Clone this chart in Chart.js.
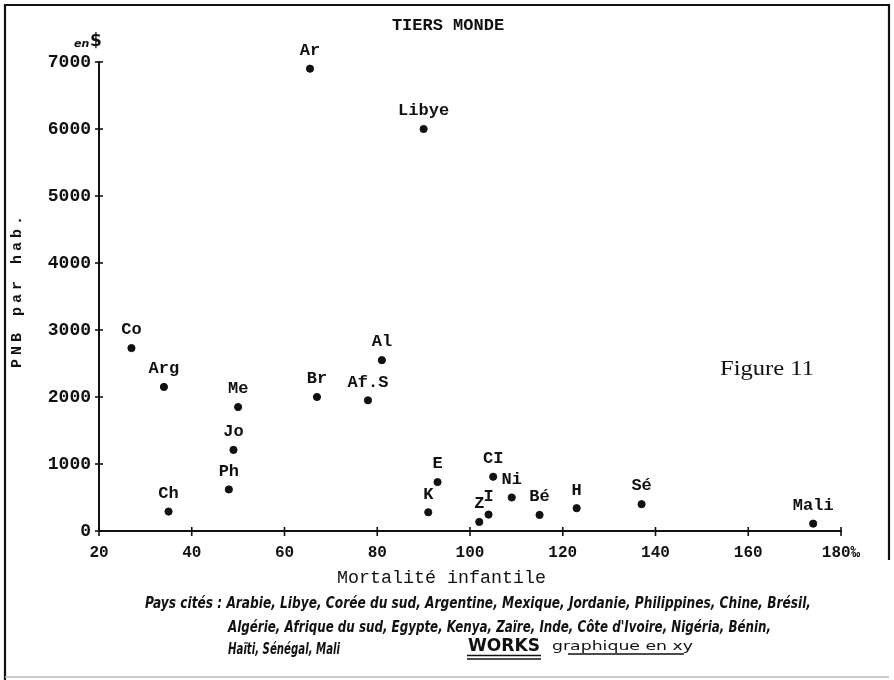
<!DOCTYPE html>
<html>
<head>
<meta charset="utf-8">
<script src="https://cdn.jsdelivr.net/npm/chart.js@4"></script>
<style>
html,body{margin:0;padding:0;background:#fff;}
#wrap{position:relative;width:894px;height:680px;}
</style>
</head>
<body>
<div id="wrap"><canvas id="c" width="894" height="680"></canvas></div>
<script>
// ---- data ----
const countryCodes = ['Ar','Libye','Co','Arg','Ch','Me','Jo','Ph','Br','Af.S','Al','K','E','CI','Ni','Z','I','Bé','H','Sé','Mali'];
const mortalite = [65.5, 90, 27, 34, 35, 50, 49, 48, 67, 78, 81, 91, 93, 105, 109, 102, 104, 115, 123, 137, 174];
const pnb = [6900, 6000, 2730, 2150, 290, 1850, 1210, 620, 2000, 1950, 2550, 280, 730, 810, 500, 135, 245, 240, 340, 400, 110];
const xTicks = [20, 40, 60, 80, 100, 120, 140, 160, 180];
const yTicks = [0, 1000, 2000, 3000, 4000, 5000, 6000, 7000];
const titleText = 'TIERS MONDE';
const xTitle = 'Mortalité infantile';
const yTitle = 'PNB par hab.';
const captionLines = [
  'Pays cités : Arabie, Libye, Corée du sud, Argentine, Mexique, Jordanie, Philippines, Chine, Brésil,',
  'Algérie, Afrique du sud, Egypte, Kenya, Zaïre, Inde, Côte d\'Ivoire, Nigéria, Bénin,',
  'Haïti, Sénégal, Mali'
];

const points = mortalite.map((m, i) => ({x: m, y: pnb[i]}));

function fitText(ctx, text, x, y, width, font) {
  ctx.save();
  ctx.font = font;
  const w = ctx.measureText(text).width;
  const s = width / w;
  ctx.translate(x, y);
  ctx.scale(s, 1);
  ctx.textAlign = 'left';
  ctx.fillText(text, 0, 0);
  ctx.restore();
}

const decorPlugin = {
  id: 'decor',
  afterDraw(chart) {
    const ctx = chart.ctx;
    const xs = chart.scales.x, ys = chart.scales.y;
    ctx.save();
    ctx.strokeStyle = '#111';
    ctx.fillStyle = '#111';
    // crossing tick marks
    ctx.lineWidth = 1.6;
    xTicks.forEach(v => {
      const px = xs.getPixelForValue(v);
      ctx.beginPath();
      ctx.moveTo(px, ys.bottom - 4);
      ctx.lineTo(px, ys.bottom + 5);
      ctx.stroke();
    });
    yTicks.forEach(v => {
      const py = ys.getPixelForValue(v);
      ctx.beginPath();
      ctx.moveTo(xs.left - 4, py);
      ctx.lineTo(xs.left + 4, py);
      ctx.stroke();
    });
    // point labels
    const meta = chart.getDatasetMeta(0);
    ctx.font = 'bold 17px "Liberation Mono"';
    ctx.textAlign = 'center';
    ctx.textBaseline = 'middle';
    meta.data.forEach((el, i) => {
      ctx.fillText(countryCodes[i], el.x, el.y - 18);
    });
    // title
    ctx.font = 'bold 17px "Liberation Mono"';
    ctx.fillText(titleText, 448, 26);
    // x title
    ctx.textBaseline = 'middle';
    fitText(ctx, xTitle, 337, 578, 209, '18px "Liberation Mono"');
    // y title rotated
    ctx.save();
    ctx.translate(17, 292);
    ctx.rotate(-Math.PI / 2);
    ctx.font = 'bold 15px "Liberation Mono"';
    ctx.textAlign = 'center';
    ctx.textBaseline = 'middle';
    try { ctx.letterSpacing = '4px'; } catch (e) {}
    ctx.fillText(yTitle, 2, 0);
    ctx.restore();
    // en $
    ctx.font = 'italic bold 11px "DejaVu Sans"';
    ctx.textAlign = 'left';
    ctx.fillText('en', 74, 44);
    ctx.font = 'bold 17px "DejaVu Sans"';
    ctx.fillText('$', 90, 42);
    // Figure 11
    ctx.textBaseline = 'alphabetic';
    fitText(ctx, 'Figure 11', 720, 375, 94, '21px "Liberation Serif"');
    // captions
    const capFont = 'italic bold 15px "DejaVu Sans Condensed", "DejaVu Sans"';
    fitText(ctx, captionLines[0], 145, 608, 666, capFont);
    fitText(ctx, captionLines[1], 228, 632, 543, capFont);
    fitText(ctx, captionLines[2], 228, 654, 112, capFont);
    // WORKS
    fitText(ctx, 'WORKS', 468, 651, 72, 'bold 17px "DejaVu Sans"');
    ctx.lineWidth = 1.6;
    ctx.beginPath();
    ctx.moveTo(467, 655.5); ctx.lineTo(541, 655.5);
    ctx.moveTo(467, 659); ctx.lineTo(541, 659);
    ctx.stroke();
    fitText(ctx, 'graphique en xy', 552, 650, 141, '13px "DejaVu Sans Condensed", "DejaVu Sans"');
    ctx.lineWidth = 1.4;
    ctx.beginPath();
    ctx.moveTo(568, 654); ctx.lineTo(684, 654);
    ctx.stroke();
    // frame
    ctx.lineWidth = 2.2;
    ctx.strokeStyle = '#111';
    ctx.beginPath();
    ctx.moveTo(5, 680); ctx.lineTo(5, 5); ctx.lineTo(889, 5); ctx.lineTo(889, 560);
    ctx.stroke();
    ctx.strokeStyle = '#bbb';
    ctx.lineWidth = 1.5;
    ctx.beginPath();
    ctx.moveTo(5, 677); ctx.lineTo(889, 677);
    ctx.stroke();
    ctx.restore();
  }
};

new Chart(document.getElementById('c'), {
  type: 'scatter',
  data: {
    datasets: [{
      data: points,
      backgroundColor: '#111',
      borderColor: '#111',
      pointRadius: 3.6,
      pointHoverRadius: 3.6
    }]
  },
  options: {
    responsive: false,
    animation: false,
    events: [],
    layout: {padding: {left: 0, top: 62, right: 53, bottom: 0}},
    plugins: {legend: {display: false}, tooltip: {enabled: false}, title: {display: false}},
    scales: {
      x: {
        type: 'linear',
        min: 20, max: 180,
        afterBuildTicks(scale) { scale.ticks = xTicks.map(v => ({value: v})); },
        afterFit(scale) { scale.height = 149; },
        grid: {display: false, drawTicks: false},
        border: {display: true, color: '#111', width: 2},
        ticks: {
          padding: 12,
          color: '#111',
          font: {family: 'Liberation Mono', size: 16, weight: 'bold'},
          maxRotation: 0,
          callback: v => v === 180 ? '180‰' : String(v)
        }
      },
      y: {
        type: 'linear',
        min: 0, max: 7000,
        afterBuildTicks(scale) { scale.ticks = yTicks.map(v => ({value: v})); },
        afterFit(scale) { scale.width = 99; },
        grid: {display: false, drawTicks: false},
        border: {display: true, color: '#111', width: 2},
        ticks: {
          padding: 8,
          color: '#111',
          font: {family: 'Liberation Mono', size: 18, weight: 'bold'},
          callback: v => String(v)
        }
      }
    }
  },
  plugins: [decorPlugin]
});
</script>
</body>
</html>
